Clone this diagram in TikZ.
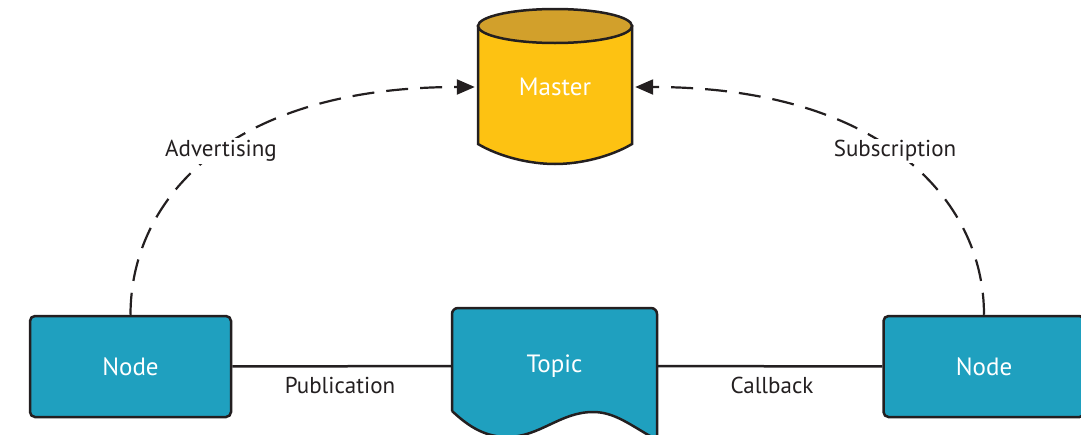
\documentclass[tikz,border=0pt]{standalone}
\usepackage{fontspec}
\setmainfont{PT Sans}
\usetikzlibrary{arrows.meta}
\definecolor{nodeblue}{HTML}{1FA0BF}
\definecolor{mastergold}{HTML}{FDC212}
\definecolor{mastertop}{HTML}{D2A02B}
\definecolor{linedark}{HTML}{231F20}
\begin{document}
\begin{tikzpicture}
  [x=1pt,y=-1pt,
   rosbox/.style={rectangle,rounded corners=5pt,fill=nodeblue,draw=linedark,line width=2.5pt,
     minimum width=201pt,minimum height=101pt,text=white,font=\fontsize{25}{29}\selectfont},
   plain/.style={rectangle,inner sep=0pt,text=white,font=\fontsize{25}{29}\selectfont},
   msglabel/.style={fill=white,inner sep=2pt,text=linedark,font=\fontsize{23}{28}\selectfont},
   link/.style={draw=linedark,line width=2.5pt},
   dashlink/.style={draw=linedark,line width=2.2pt,dash pattern=on 22pt off 12pt,
     -{Triangle[length=18pt,width=15pt]},shorten >=3pt}]
  \useasboundingbox (0,0) rectangle (1081,434);

  % master cylinder
  \filldraw[fill=mastergold,draw=linedark,line width=2.5pt]
    (478,26) -- (478,144) .. controls (500,157) and (530,164) .. (555,164)
    .. controls (580,164) and (610,157) .. (632,144) -- (632,26) -- cycle;
  \filldraw[fill=mastertop,draw=linedark,line width=2.5pt] (555,26) ellipse [x radius=77,y radius=17];

  % topic sheet
  \filldraw[fill=nodeblue,draw=linedark,line width=2.5pt,rounded corners=6pt]
    (452,411) -- (452,308) -- (657,308) [sharp corners] -- (657,440)
    .. controls (630,425) and (615,412) .. (593,412)
    .. controls (560,412) and (540,437) .. (507,437)
    .. controls (482,437) and (465,423) .. (452,411);

  \node[plain,minimum width=154pt,minimum height=155pt] (master) at (555,87) {Master};
  \node[plain,minimum width=205pt,minimum height=100pt] (topic) at (554.5,366) {Topic};
  \node[rosbox] (n1) at (130.5,366.5) {Node};
  \node[rosbox] (n2) at (984,366.5) {Node};

  \foreach \from/\to in {n1/topic, topic/n2}
    \draw[link] (\from) -- (\to);

  \draw[dashlink] (n1.north) .. controls +(0,-116) and +(-248,0) .. (master.west);
  \draw[dashlink] (n2.north) .. controls +(0,-116) and +(248,0) .. (master.east);

  \node[msglabel] (adv) at (221,151) {Advertising};
  \node[msglabel] (sub) at (895,151) {Subscription};
  \node[msglabel] (pub) at (340,385) {Publication};
  \node[msglabel] (cb) at (772,385) {Callback};
\end{tikzpicture}
\end{document}
